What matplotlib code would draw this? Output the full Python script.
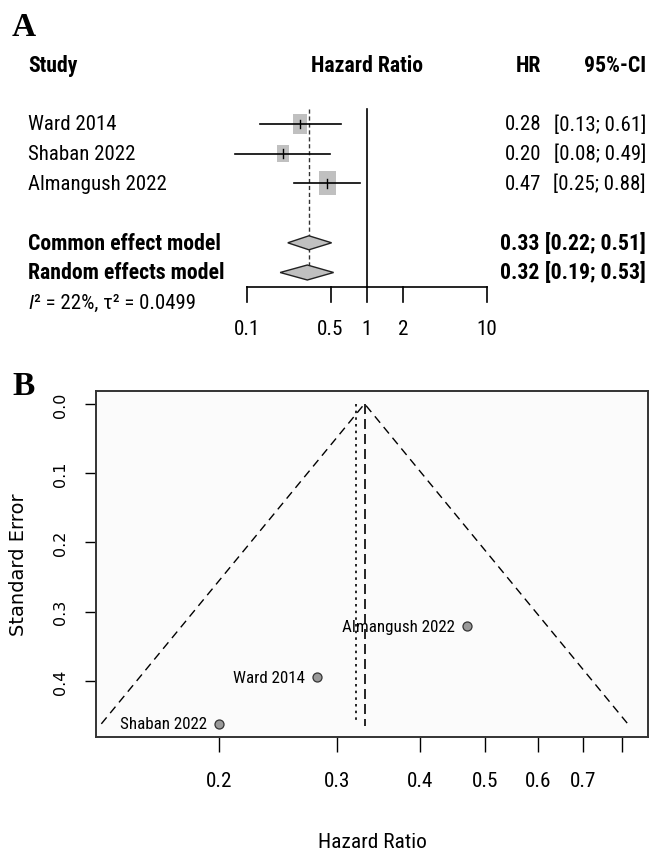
import numpy as np
import matplotlib
matplotlib.use('Agg')
import matplotlib.pyplot as plt
from matplotlib import font_manager
from matplotlib.font_manager import FontProperties
from matplotlib.patches import Rectangle, Polygon
from matplotlib.transforms import blended_transform_factory

# --- data ---
studies = ['Ward 2014', 'Shaban 2022', 'Almangush 2022']
hr = [0.28, 0.20, 0.47]
ci_lo = [0.13, 0.08, 0.25]
ci_hi = [0.61, 0.49, 0.88]
weights = [30.8, 22.5, 46.7]
se = [0.395, 0.462, 0.321]

models = ['Common effect model', 'Random effects model']
model_hr = [0.33, 0.32]
model_lo = [0.22, 0.19]
model_hi = [0.51, 0.53]
het_rest = '\u00b2 = 22%, \u03c4\u00b2 = 0.0499'

forest_ticks = [0.1, 0.5, 1, 2, 10]
funnel_ticks = [0.2, 0.3, 0.4, 0.5, 0.6, 0.7, 0.8]
funnel_ticklabels = ['0.2', '0.3', '0.4', '0.5', '0.6', '0.7', '']
se_ticks = [0.0, 0.1, 0.2, 0.3, 0.4]

# pick a narrow sans face if one is installed
fl = font_manager.fontManager.ttflist
names = {f.name for f in fl}
cond = {f.name for f in fl if str(f.stretch) in ('condensed', 'semi-condensed', '75', '87')}
if 'Liberation Sans Narrow' in names:
    fam, stretch = 'Liberation Sans Narrow', 'normal'
elif 'Roboto Condensed' in names:
    fam, stretch = 'Roboto Condensed', 'normal'
elif 'Noto Sans' in cond:
    fam, stretch = 'Noto Sans', 'condensed'
elif 'DejaVu Sans' in cond:
    fam, stretch = 'DejaVu Sans', 'condensed'
else:
    fam, stretch = 'Liberation Sans', 'normal'

W, H = 649, 853
fig = plt.figure(figsize=(W / 100, H / 100), dpi=100)
renderer = fig.canvas.get_renderer()


def fp(size, weight='normal', style='normal'):
    return FontProperties(family=fam, stretch=stretch, size=size, weight=weight, style=style)


def fit(s, px, weight='normal'):
    t = fig.text(0, 0, s, fontproperties=fp(10, weight))
    w = t.get_window_extent(renderer).width
    t.remove()
    return 10 * px / w


fs_reg = fit('Almangush 2022', 138)
fs_bold = fit('Random effects model', 196, 'bold')
fs_lab = fit('Almangush 2022', 112)
fs_tick = fit('0.2', 26)
fs_xlab = fit('Hazard Ratio', 108)

# ---------------- panel A : forest plot ----------------
axA = fig.add_axes([0, 1 - 350 / H, 1, 350 / H])
axA.set_xscale('log')
x0 = 366.7   # pixel of HR = 1
dec = 120.0  # pixels per decade
axA.set_xlim(10 ** (-x0 / dec), 10 ** ((W - x0) / dec))
rowh = 29.7
axA.set_ylim(1 + (350 - 125) / rowh, 1 - 125 / rowh)
axA.axis('off')
colT = blended_transform_factory(axA.transAxes, axA.transData)
xl, xhr, xci = 28 / W, 541 / W, 646 / W

axA.text(xl, -1, 'Study', transform=colT, fontproperties=fp(fs_bold, 'bold'), va='center')
axA.text(1, -1, 'Hazard Ratio', fontproperties=fp(fs_bold, 'bold'), va='center', ha='center')
axA.text(xhr, -1, 'HR', transform=colT, fontproperties=fp(fs_bold, 'bold'), va='center', ha='right')
axA.text(xci, -1, '95%-CI', transform=colT, fontproperties=fp(fs_bold, 'bold'), va='center', ha='right')


def halfw(px):
    return 10 ** (px / dec)


rows = [1, 2, 3]
wmax = max(weights)
for r, name, h, lo, hi, w in zip(rows, studies, hr, ci_lo, ci_hi, weights):
    side = 17.5 * np.sqrt(w / wmax)
    sq = Rectangle((h / halfw(side / 2), r - side * 1.37 / 2 / rowh),
                   h * halfw(side / 2) - h / halfw(side / 2), side * 1.37 / rowh,
                   facecolor='#c0c0c0', edgecolor='none', zorder=2)
    axA.add_patch(sq)
    axA.plot([lo, hi], [r, r], color='black', lw=1.2, zorder=3)
    axA.plot([h, h], [r - 0.15, r + 0.15], color='black', lw=1, zorder=3)
    axA.text(xl, r, name, transform=colT, fontproperties=fp(fs_reg), va='center')
    axA.text(xhr, r, '%.2f' % h, transform=colT, fontproperties=fp(fs_reg), va='center', ha='right')
    axA.text(xci, r, '[%.2f; %.2f]' % (lo, hi), transform=colT, fontproperties=fp(fs_reg),
             va='center', ha='right')

for r, name, h, lo, hi, dh in zip([5, 6], models, model_hr, model_lo, model_hi, [7.0, 7.5]):
    d = dh / rowh
    axA.add_patch(Polygon([(lo, r), (h, r - d), (hi, r), (h, r + d)], closed=True,
                          facecolor='#c0c0c0', edgecolor='#222222', lw=1, zorder=3))
    axA.text(xl, r, name, transform=colT, fontproperties=fp(fs_bold, 'bold'), va='center')
    axA.text(xhr - 2 / W, r, '%.2f' % h, transform=colT, fontproperties=fp(fs_bold, 'bold'),
             va='center', ha='right')
    axA.text(xci, r, '[%.2f; %.2f]' % (lo, hi), transform=colT, fontproperties=fp(fs_bold, 'bold'),
             va='center', ha='right')

# heterogeneity line: italic I followed by the rest
tI = axA.text(xl, 7, 'I', transform=colT, fontproperties=fp(fs_reg, style='italic'), va='center')
wI = tI.get_window_extent(renderer).width
axA.annotate(het_rest, (xl, 7), xycoords=colT, xytext=(wI + 1, 0), textcoords='offset pixels',
             fontproperties=fp(fs_reg), va='center')

ytop = 1 - 15 / rowh
yaxis = 1 + (288 - 125) / rowh
axA.plot([1, 1], [ytop, yaxis], color='black', lw=1.2)
axA.plot([model_hr[0]] * 2, [ytop, 6.22], color='#333333', lw=1, ls=(0, (3, 2)))
axA.plot([forest_ticks[0], forest_ticks[-1]], [yaxis, yaxis], color='black', lw=1.2)
for t in forest_ticks:
    axA.plot([t, t], [yaxis, yaxis + 15 / rowh], color='black', lw=1.2)
    axA.text(t, 1 + (330 - 125) / rowh, '%g' % t, fontproperties=fp(fs_tick), ha='center', va='center')

fig.text(24 / W, 1 - 27 / H, 'A', family='Liberation Serif', fontweight='bold', fontsize=24,
         ha='center', va='center')
fig.text(24 / W, 1 - 387 / H, 'B', family='Liberation Serif', fontweight='bold', fontsize=24,
         ha='center', va='center')

# ---------------- panel B : funnel plot ----------------
axB = fig.add_axes([96 / W, 1 - 738 / H, (648 - 96) / W, (738 - 392) / H])
axB.set_facecolor('#fbfbfb')
axB.set_xscale('log')
axB.set_xlim(0.131, 0.875)
axB.set_ylim(0.481, -0.0185)

se_max = max(se)
centre = model_hr[0]
axB.plot([centre * np.exp(-1.96 * se_max), centre, centre * np.exp(1.96 * se_max)],
         [se_max, 0, se_max], color='black', lw=1, ls=(0, (6, 4)))
axB.plot([model_hr[0]] * 2, [0, se_max + 0.003], color='black', lw=1.2, ls=(0, (6, 3)))
axB.plot([model_hr[1]] * 2, [0, se_max - 0.006], color='black', lw=1.2, ls=(0, (1.5, 2.5)))

axB.plot(hr, se, 'o', ms=6.5, mfc='#999999', mec='#333333', mew=0.9, zorder=4)
for name, h, s in zip(studies, hr, se):
    axB.annotate(name, (h, s), xytext=(-12, 0), textcoords='offset pixels',
                 ha='right', va='center', fontproperties=fp(fs_lab))

axB.set_xticks(funnel_ticks)
axB.set_xticklabels(funnel_ticklabels, fontproperties=fp(fs_tick))
axB.xaxis.set_minor_locator(matplotlib.ticker.NullLocator())
axB.set_yticks(se_ticks)
axB.set_yticklabels(['%.1f' % v for v in se_ticks], rotation=90, va='center',
                    family='DejaVu Sans', fontsize=11.5)
axB.tick_params(axis='x', length=10.8, width=1, pad=14)
axB.tick_params(axis='y', length=8, width=1, pad=12)
for sp in axB.spines.values():
    sp.set_linewidth(1.4)
    sp.set_color('#333333')

axB.set_xlabel('Hazard Ratio', fontproperties=fp(fs_xlab))
axB.xaxis.set_label_coords(0.5, -(843 - 738) / (738 - 392), transform=axB.transAxes)
axB.xaxis.label.set_va('center')
axB.set_ylabel('Standard Error', family='DejaVu Sans', fontsize=14)
axB.yaxis.set_label_coords(-(96 - 18) / (648 - 96), 0.5)
axB.yaxis.label.set_va('center')

fig.savefig('out.png', dpi=100)
